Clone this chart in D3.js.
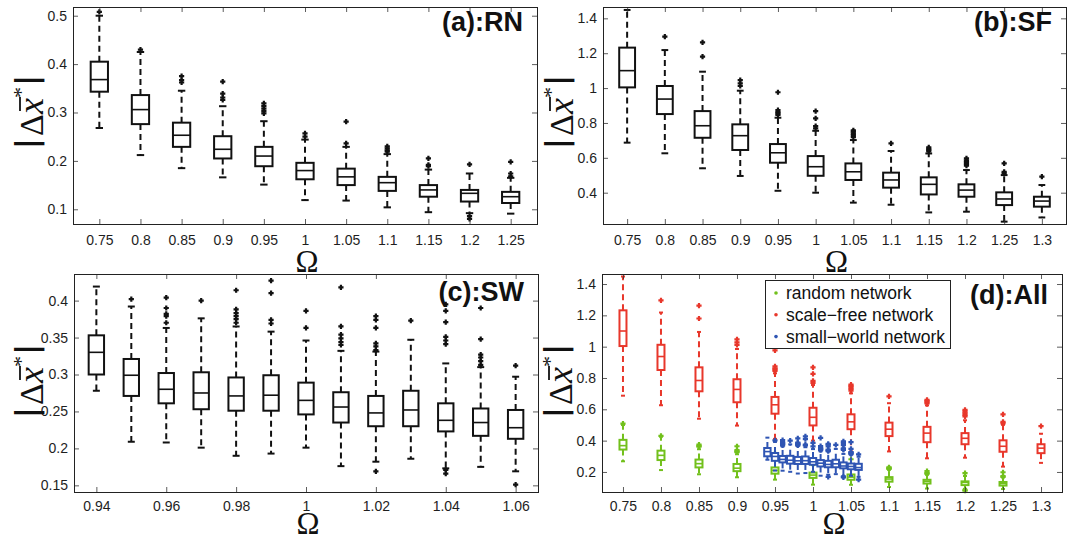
<!DOCTYPE html>
<html>
<head>
<meta charset="utf-8">
<script src="https://cdn.jsdelivr.net/npm/d3@7"></script>
<style>
  html, body { margin: 0; padding: 0; background: #fff; }
  svg { display: block; }
</style>
</head>
<body>
<svg id="chart" width="1074" height="535"></svg>
<script>
// ---------- random network (RN) ----------
const rnOmega = ["0.75","0.8","0.85","0.9","0.95","1","1.05","1.1","1.15","1.2","1.25"];
const rnLow  = [0.268,0.212,0.185,0.166,0.151,0.119,0.118,0.104,0.094,0.092,0.091];
const rnQ1   = [0.343,0.276,0.229,0.205,0.189,0.162,0.150,0.138,0.126,0.116,0.113];
const rnMed  = [0.368,0.306,0.253,0.224,0.210,0.180,0.167,0.155,0.140,0.133,0.126];
const rnQ3   = [0.405,0.336,0.279,0.251,0.229,0.196,0.184,0.167,0.150,0.140,0.136];
const rnHigh = [0.500,0.425,0.345,0.313,0.282,0.244,0.229,0.214,0.182,0.174,0.165];
const rnOut  = [[0.508],[0.430],[0.362,0.367,0.375],[0.326,0.331,0.339,0.364],
                [0.298,0.303,0.308,0.313,0.319],[0.250,0.257],[0.236,0.281],
                [0.219,0.222,0.226,0.230],[0.189,0.192,0.205],[0.193,0.086,0.080],
                [0.168,0.174,0.198]];

// ---------- scale-free network (SF) ----------
const sfOmega = ["0.75","0.8","0.85","0.9","0.95","1","1.05","1.1","1.15","1.2","1.25","1.3"];
const sfLow  = [0.687,0.626,0.540,0.496,0.411,0.400,0.343,0.331,0.287,0.291,0.234,0.258];
const sfQ1   = [1.004,0.851,0.715,0.645,0.572,0.497,0.473,0.429,0.390,0.377,0.329,0.320];
const sfMed  = [1.100,0.937,0.784,0.727,0.629,0.549,0.520,0.473,0.448,0.415,0.364,0.352];
const sfQ3   = [1.232,1.012,0.868,0.792,0.679,0.610,0.568,0.515,0.488,0.448,0.402,0.377];
const sfHigh = [1.448,1.218,1.094,0.985,0.830,0.755,0.702,0.639,0.625,0.530,0.501,0.444];
const sfOut  = [[],[1.295],[1.180,1.262],[1.012,1.027,1.046],[0.846,0.855,0.862,0.874,0.976],
                [0.769,0.782,0.826,0.868],[0.719,0.730,0.740,0.750,0.758],[0.683],
                [0.637,0.645,0.652,0.660],[0.555,0.565,0.575,0.585,0.597],
                [0.510,0.520,0.568],[0.492]];

// ---------- small-world network (SW) ----------
const swOmega = ["0.94","0.95","0.96","0.97","0.98","0.99","1","1.01","1.02","1.03","1.04","1.05","1.06"];
const swLow  = [0.278,0.209,0.208,0.201,0.190,0.193,0.201,0.176,0.182,0.186,0.173,0.175,0.169];
const swQ1   = [0.300,0.271,0.261,0.253,0.251,0.251,0.246,0.235,0.230,0.230,0.223,0.217,0.213];
const swMed  = [0.330,0.299,0.280,0.275,0.271,0.272,0.265,0.256,0.248,0.252,0.238,0.235,0.228];
const swQ3   = [0.353,0.321,0.302,0.303,0.296,0.299,0.289,0.276,0.271,0.278,0.261,0.254,0.252];
const swHigh = [0.419,0.392,0.363,0.376,0.365,0.358,0.346,0.332,0.331,0.347,0.315,0.310,0.297];
const swOut  = [[],[0.402],[0.370,0.379,0.382,0.390,0.404],[0.400],
                [0.370,0.375,0.379,0.383,0.388,0.414],[0.369,0.374,0.410,0.427],
                [0.363,0.386],[0.340,0.344,0.349,0.354,0.365,0.418],
                [0.333,0.338,0.342,0.363,0.374,0.379,0.169],[0.373],
                [0.341,0.346,0.351,0.371,0.386,0.395,0.166,0.171],
                [0.313,0.318,0.323,0.327,0.348,0.390],[0.312,0.151]];

// ---------- axis ticks ----------
const rnYTicks = [0.1,0.2,0.3,0.4,0.5];
const rnYLabels = ["0.1","0.2","0.3","0.4","0.5"];
const sfYTicks = [0.4,0.6,0.8,1.0,1.2,1.4];
const sfYLabels = ["0.4","0.6","0.8","1","1.2","1.4"];
const swYTicks = [0.15,0.2,0.25,0.3,0.35,0.4];
const swYLabels = ["0.15","0.2","0.25","0.3","0.35","0.4"];
const swXTicks = ["0.94","0.96","0.98","1","1.02","1.04","1.06"];
const allYTicks = [0.2,0.4,0.6,0.8,1.0,1.2,1.4];
const allYLabels = ["0.2","0.4","0.6","0.8","1","1.2","1.4"];
const allXTicks = [0.75,0.8,0.85,0.9,0.95,1,1.05,1.1,1.15,1.2,1.25,1.3];
const allXLabels = ["0.75","0.8","0.85","0.9","0.95","1","1.05","1.1","1.15","1.2","1.25","1.3"];

const legendNames = ["random network","scale\u2212free network","small\u2212world network"];
const colorRN = "#72c01c", colorSF = "#e8372b", colorSW = "#2f55b3";

const FONT = '"Liberation Sans", Arial, Helvetica, sans-serif';
const SERIF = '"Liberation Serif", "DejaVu Serif", serif';
const svg = d3.select("#chart");

function toRows(omega, low, q1, med, q3, high, out) {
  return omega.map((o, i) => ({ key: o, w: +o, low: low[i], q1: q1[i], med: med[i],
                                q3: q3[i], high: high[i], out: out[i] }));
}
const rnRows = toRows(rnOmega, rnLow, rnQ1, rnMed, rnQ3, rnHigh, rnOut);
const sfRows = toRows(sfOmega, sfLow, sfQ1, sfMed, sfQ3, sfHigh, sfOut);
const swRows = toRows(swOmega, swLow, swQ1, swMed, swQ3, swHigh, swOut);

// frame, inward ticks on all four sides, tick labels on left and bottom
function drawAxes(p, x, y, xVals, xFmt, yVals, yLabs) {
  const g = svg.append("g");
  const styleAxis = sel => {
    sel.select(".domain").remove();
    sel.selectAll(".tick line").attr("stroke", "#333").attr("stroke-width", 0.8);
    sel.attr("font-family", FONT).attr("font-size", 14).attr("color", "#1e1e1e");
  };
  g.append("g").attr("transform", `translate(${p.x0},0)`)
    .call(d3.axisLeft(y).tickValues(yVals).tickFormat((d, i) => yLabs[i]).tickSize(-5).tickPadding(6))
    .call(styleAxis);
  g.append("g").attr("transform", `translate(${p.x1},0)`)
    .call(d3.axisRight(y).tickValues(yVals).tickFormat("").tickSize(-5))
    .call(styleAxis);
  g.append("g").attr("transform", `translate(0,${p.y1})`)
    .call(d3.axisBottom(x).tickValues(xVals).tickFormat(xFmt).tickSize(-5).tickPadding(p.labPad))
    .call(styleAxis);
  g.append("g").attr("transform", `translate(0,${p.y0})`)
    .call(d3.axisTop(x).tickValues(xVals).tickFormat("").tickSize(-5))
    .call(styleAxis);
  g.append("rect").attr("x", p.x0 + 0.5).attr("y", p.y0 + 0.5)
    .attr("width", p.x1 - p.x0).attr("height", p.y1 - p.y0)
    .attr("fill", "none").attr("stroke", "#222").attr("stroke-width", 1);
  // Ω axis title
  svg.append("text").attr("x", (p.x0 + p.x1) / 2 + 2).attr("y", p.omegaY)
    .attr("text-anchor", "middle").attr("font-family", SERIF).attr("font-size", 31)
    .attr("fill", "#111").text("\u03A9");
}

// |Δ x̄*| rotated y-axis title; cx is the text baseline on screen
function yTitle(cx, cy) {
  const g = svg.append("g").attr("transform", `translate(${cx},${cy}) rotate(-90)`);
  const t = g.append("text").attr("text-anchor", "middle").attr("fill", "#111");
  const bar = '"DejaVu Sans", sans-serif';
  t.append("tspan").attr("font-family", bar).attr("font-weight", "bold").attr("font-size", 31)
    .attr("dy", -6).text("|");
  t.append("tspan").attr("font-family", SERIF).attr("font-size", 34).attr("dy", 6).attr("dx", 2).text("\u0394");
  t.append("tspan").attr("font-family", SERIF).attr("font-style", "italic").attr("font-size", 36).text("x");
  t.append("tspan").attr("font-family", SERIF).attr("font-size", 22).attr("dy", -15).text("*");
  t.append("tspan").attr("font-family", bar).attr("font-weight", "bold").attr("font-size", 31)
    .attr("dy", 9).attr("dx", 1).text("|");
  const ext = t.node().getExtentOfChar(2);
  g.append("line").attr("x1", ext.x + 3).attr("x2", ext.x + ext.width + 1)
    .attr("y1", -23).attr("y2", -23).attr("stroke", "#111").attr("stroke-width", 1.8);
}

function panelTitle(p, label, yBase) {
  svg.append("text").attr("x", p.x1 - 14).attr("y", yBase).attr("text-anchor", "end")
    .attr("font-family", FONT).attr("font-weight", "bold").attr("font-size", 27)
    .attr("fill", "#111").text(label);
}

// one box-and-whisker per row
function drawBoxes(rows, xpos, y, color, boxW, capW, lw) {
  const g = svg.append("g").attr("stroke", color).attr("fill", "none");
  const b = g.selectAll("g").data(rows).join("g");
  b.append("line").attr("x1", d => xpos(d)).attr("x2", d => xpos(d))
    .attr("y1", d => y(d.q3)).attr("y2", d => y(d.high))
    .attr("stroke-width", lw).attr("stroke-dasharray", "6,4");
  b.append("line").attr("x1", d => xpos(d)).attr("x2", d => xpos(d))
    .attr("y1", d => y(d.q1)).attr("y2", d => y(d.low))
    .attr("stroke-width", lw).attr("stroke-dasharray", "6,4");
  b.append("line").attr("x1", d => xpos(d) - capW / 2).attr("x2", d => xpos(d) + capW / 2)
    .attr("y1", d => y(d.high)).attr("y2", d => y(d.high)).attr("stroke-width", lw);
  b.append("line").attr("x1", d => xpos(d) - capW / 2).attr("x2", d => xpos(d) + capW / 2)
    .attr("y1", d => y(d.low)).attr("y2", d => y(d.low)).attr("stroke-width", lw);
  b.append("rect").attr("x", d => xpos(d) - boxW / 2).attr("width", boxW)
    .attr("y", d => y(d.q3)).attr("height", d => y(d.q1) - y(d.q3))
    .attr("fill", "#fff").attr("stroke-width", lw);
  b.append("line").attr("x1", d => xpos(d) - boxW / 2).attr("x2", d => xpos(d) + boxW / 2)
    .attr("y1", d => y(d.med)).attr("y2", d => y(d.med)).attr("stroke-width", lw * 0.8);
  b.selectAll("path.out").data(d => d.out.map(v => ({ x: xpos(d), v }))).join("path")
    .attr("class", "out")
    .attr("d", o => { const cx = o.x, cy = y(o.v), r = 2.6;
      return `M${cx - r},${cy}H${cx + r}M${cx},${cy - r}V${cy + r}`; })
    .attr("stroke-width", 2.2);
}

// ---------- panel geometry ----------
const pA = { x0: 73, x1: 537, y0: 7, y1: 224, labPad: 11, omegaY: 272 };
const pB = { x0: 603, x1: 1066, y0: 7, y1: 224, labPad: 11, omegaY: 272 };
const pC = { x0: 74, x1: 538, y0: 274, y1: 492, labPad: 9, omegaY: 534 };
const pD = { x0: 602, x1: 1062, y0: 274, y1: 492, labPad: 9, omegaY: 534 };

// (a) RN
{
  const x = d3.scalePoint().domain(rnOmega).range([pA.x0, pA.x1]).padding(0.64);
  const y = d3.scaleLinear().domain([0.0696, 0.518]).range([pA.y1, pA.y0]);
  drawBoxes(rnRows, d => x(d.key), y, "#111", x.step() * 0.42, x.step() * 0.18, 2);
  drawAxes(pA, x, y, rnOmega, d => d, rnYTicks, rnYLabels);
  panelTitle(pA, "(a):RN", 31);
  yTitle(43, 112);
}
// (b) SF
{
  const x = d3.scalePoint().domain(sfOmega).range([pB.x0, pB.x1]).padding(0.64);
  const y = d3.scaleLinear().domain([0.2205, 1.465]).range([pB.y1, pB.y0]);
  drawBoxes(sfRows, d => x(d.key), y, "#111", x.step() * 0.42, x.step() * 0.18, 2);
  drawAxes(pB, x, y, sfOmega, d => d, sfYTicks, sfYLabels);
  panelTitle(pB, "(b):SF", 31);
  yTitle(573, 112);
}
// (c) SW
{
  const x = d3.scalePoint().domain(swOmega).range([pC.x0, pC.x1]).padding(0.64);
  const y = d3.scaleLinear().domain([0.141, 0.436]).range([pC.y1, pC.y0]);
  drawBoxes(swRows, d => x(d.key), y, "#111", x.step() * 0.44, x.step() * 0.2, 2);
  drawAxes(pC, x, y, swXTicks, d => d, swYTicks, swYLabels);
  panelTitle(pC, "(c):SW", 301);
  yTitle(43, 381);
}
// (d) all three networks on a shared Ω axis
{
  const x = d3.scaleLinear().domain([0.75 - 0.0276, 1.3 + 0.0276]).range([pD.x0, pD.x1]);
  const y = d3.scaleLinear().domain([0.072, 1.464]).range([pD.y1, pD.y0]);
  drawBoxes(sfRows, d => x(d.w), y, colorSF, 7, 4, 2);
  drawBoxes(rnRows, d => x(d.w), y, colorRN, 7, 4, 2);
  drawBoxes(swRows, d => x(d.w), y, colorSW, 6.4, 4, 2);
  drawAxes(pD, x, y, allXTicks, (d, i) => allXLabels[i], allYTicks, allYLabels);
  panelTitle(pD, "(d):All", 304);
  yTitle(572, 381);

  const lg = svg.append("g").attr("transform", "translate(765,280)");
  lg.append("rect").attr("x", 0.5).attr("y", 0.5).attr("width", 185).attr("height", 68)
    .attr("fill", "#fff").attr("stroke", "#222").attr("stroke-width", 1);
  const cols = [colorRN, colorSF, colorSW];
  legendNames.forEach((name, i) => {
    const cy = 13 + i * 21.8;
    lg.append("circle").attr("cx", 11).attr("cy", cy).attr("r", 1.8).attr("fill", cols[i]);
    lg.append("text").attr("x", 21).attr("y", cy).attr("dy", "0.35em")
      .attr("font-family", FONT).attr("font-size", 17.5).attr("fill", "#111").text(name);
  });
}
</script>
</body>
</html>
